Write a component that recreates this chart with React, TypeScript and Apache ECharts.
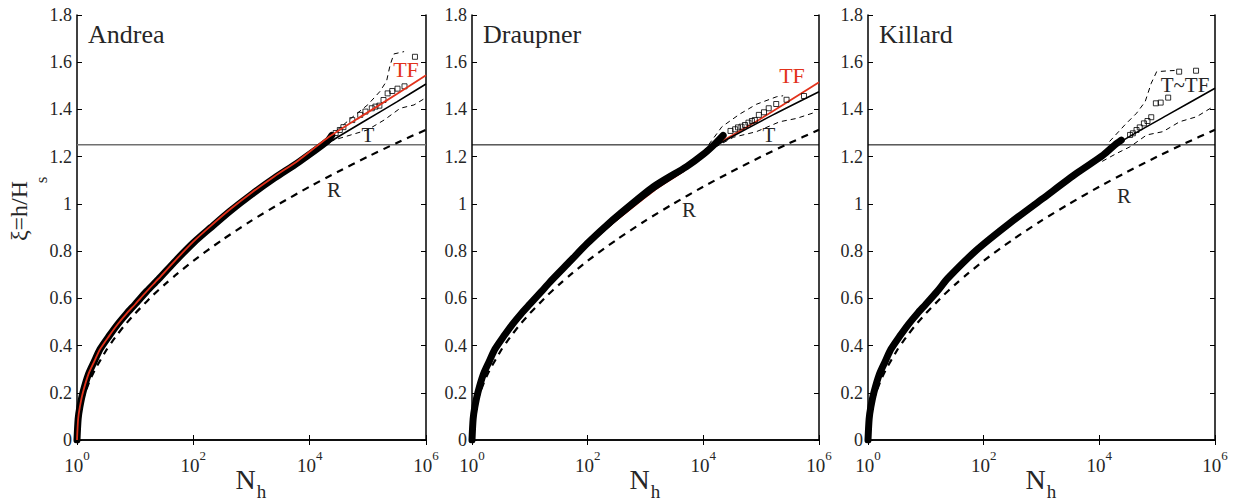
import React, { useEffect, useRef } from "react";
import * as echarts from "echarts";

// ---------- data ----------
// Rayleigh curve R (same in the three panels)
const rN = [1, 1.02, 1.05, 1.12, 1.3, 1.6, 2, 3.2, 4, 5, 6.3, 10, 16, 20, 32, 50, 100, 316, 1000, 3000, 1e4, 3e4, 1e5, 3e5, 1e6];
const rXi = [0, 0.05, 0.078, 0.12, 0.181, 0.242, 0.294, 0.381, 0.416, 0.448, 0.48, 0.536, 0.588, 0.612, 0.658, 0.699, 0.759, 0.848, 0.929, 1.0, 1.073, 1.135, 1.2, 1.256, 1.314];

// threshold line xi = 1.25
const hLineN = [1, 1e6];
const hLineXi = [1.25, 1.25];

// ---- Andrea ----
const andreaDataN = [1, 1.047, 1.12, 1.26, 1.58, 2, 2.5, 3.55, 5, 7.1, 10, 15.8, 25, 50, 100, 200, 430, 1000, 2500, 6300, 2e4, 2.4e4];
const andreaDataXi = [0, 0.09, 0.14, 0.2, 0.28, 0.335, 0.385, 0.44, 0.49, 0.535, 0.575, 0.63, 0.68, 0.76, 0.835, 0.9, 0.97, 1.04, 1.11, 1.175, 1.265, 1.29];
const andreaSqN = [2.8e4, 3.3e4, 3.8e4, 5.4e4, 7.4e4, 9.1e4, 1.17e5, 1.35e5, 1.58e5, 1.86e5, 2.19e5, 2.63e5, 3.24e5, 4.27e5, 6.46e5];
const andreaSqXi = [1.3, 1.313, 1.325, 1.355, 1.377, 1.391, 1.405, 1.412, 1.416, 1.44, 1.468, 1.478, 1.488, 1.498, 1.623];
const andreaTN = [1, 1.047, 1.12, 1.26, 1.58, 2, 2.5, 3.55, 5, 7.1, 10, 15.8, 25, 50, 100, 200, 430, 1000, 2500, 6300, 2e4, 8.5e4, 3.2e5, 1e6];
const andreaTXi = [0, 0.085, 0.135, 0.195, 0.275, 0.33, 0.38, 0.435, 0.485, 0.53, 0.57, 0.625, 0.675, 0.755, 0.83, 0.895, 0.963, 1.032, 1.1, 1.165, 1.255, 1.349, 1.433, 1.508];
const andreaTFN = [1, 1.047, 1.12, 1.26, 1.58, 2, 2.5, 3.55, 5, 7.1, 10, 15.8, 25, 50, 100, 200, 430, 1000, 2500, 6300, 2e4, 8.5e4, 3.2e5, 1e6];
const andreaTFXi = [0, 0.09, 0.14, 0.2, 0.28, 0.335, 0.385, 0.44, 0.49, 0.535, 0.575, 0.63, 0.682, 0.763, 0.84, 0.907, 0.977, 1.047, 1.117, 1.183, 1.278, 1.377, 1.466, 1.545];
const andreaUpN = [2.2e4, 5.6e4, 1e5, 1.6e5, 2.1e5, 2.4e5, 2.8e5, 4.2e5];
const andreaUpXi = [1.285, 1.37, 1.42, 1.475, 1.52, 1.585, 1.635, 1.645];
const andreaLoN = [2.2e4, 9.8e4, 1.9e5, 3.6e5, 6.2e5, 1e6];
const andreaLoXi = [1.265, 1.313, 1.355, 1.405, 1.419, 1.45];

// ---- Draupner ----
const draupDataN = [1, 1.047, 1.12, 1.26, 1.58, 2, 2.5, 3.55, 5, 7.1, 10, 15.8, 22, 50, 98, 200, 363, 1380, 5130, 1e4, 1.6e4, 2.2e4];
const draupDataXi = [0, 0.09, 0.14, 0.2, 0.28, 0.335, 0.385, 0.44, 0.49, 0.535, 0.575, 0.628, 0.668, 0.758, 0.832, 0.903, 0.958, 1.073, 1.158, 1.21, 1.255, 1.29];
const draupSqN = [2.95e4, 3.55e4, 3.98e4, 4.57e4, 5.25e4, 6.03e4, 6.92e4, 7.76e4, 9.12e4, 1.12e5, 1.35e5, 1.82e5, 2.75e5, 5.5e5];
const draupSqXi = [1.309, 1.316, 1.324, 1.327, 1.334, 1.344, 1.351, 1.355, 1.377, 1.388, 1.405, 1.423, 1.441, 1.457];
const draupTN = [1, 1.047, 1.12, 1.26, 1.58, 2, 2.5, 3.55, 5, 7.1, 10, 15.8, 22, 50, 98, 200, 363, 1380, 5130, 1e4, 2.9e4, 1.6e5, 1e6];
const draupTXi = [0, 0.085, 0.135, 0.195, 0.275, 0.33, 0.38, 0.435, 0.485, 0.53, 0.57, 0.622, 0.662, 0.75, 0.822, 0.89, 0.943, 1.055, 1.148, 1.215, 1.28, 1.377, 1.475];
const draupTFN = [1, 1.047, 1.12, 1.26, 1.58, 2, 2.5, 3.55, 5, 7.1, 10, 15.8, 22, 50, 98, 200, 363, 1380, 5130, 1e4, 1.8e4, 1e5, 1e6];
const draupTFXi = [0, 0.085, 0.135, 0.195, 0.275, 0.33, 0.38, 0.435, 0.485, 0.53, 0.57, 0.622, 0.662, 0.75, 0.822, 0.89, 0.943, 1.055, 1.148, 1.215, 1.255, 1.362, 1.515];
const draupUpN = [1e4, 2.1e4, 4.3e4, 8.3e4, 1.86e5, 2.4e5];
const draupUpXi = [1.22, 1.327, 1.381, 1.422, 1.454, 1.458];
const draupLoN = [1.6e4, 3.3e4, 8.3e4, 2.1e5, 4.1e5, 9.1e5];
const draupLoXi = [1.24, 1.282, 1.306, 1.348, 1.362, 1.39];

// ---- Killard ----
const killDataN = [1, 1.047, 1.12, 1.26, 1.58, 2, 2.5, 3.55, 5, 7.1, 10, 15.8, 24, 76, 282, 1070, 4070, 1.17e4, 1.86e4, 2.4e4];
const killDataXi = [0, 0.09, 0.14, 0.2, 0.28, 0.335, 0.385, 0.44, 0.49, 0.535, 0.575, 0.63, 0.685, 0.805, 0.918, 1.024, 1.13, 1.207, 1.25, 1.27];
const killSqN = [3.4e4, 3.8e4, 4.4e4, 5.0e4, 5.9e4, 6.8e4, 7.9e4, 9.5e4, 1.15e5, 1.55e5, 2.4e5, 4.7e5];
const killSqXi = [1.292, 1.299, 1.313, 1.324, 1.341, 1.351, 1.367, 1.426, 1.429, 1.45, 1.56, 1.564];
const killTN = [1, 1.047, 1.12, 1.26, 1.58, 2, 2.5, 3.55, 5, 7.1, 10, 15.8, 24, 76, 282, 1070, 4070, 1.17e4, 1.86e4, 3.3e4, 1.6e5, 1e6];
const killTXi = [0, 0.085, 0.135, 0.195, 0.275, 0.33, 0.38, 0.435, 0.485, 0.53, 0.57, 0.625, 0.68, 0.8, 0.912, 1.018, 1.122, 1.198, 1.245, 1.285, 1.38, 1.49];
const killUpN = [1.5e4, 2.75e4, 4.4e4, 6.2e4, 7.9e4, 9.8e4, 1.66e5, 2e5];
const killUpXi = [1.264, 1.334, 1.384, 1.433, 1.511, 1.56, 1.564, 1.565];
const killLoN = [1.12e4, 2e4, 3.4e4, 6.6e4, 1.26e5, 2.45e5, 4.8e5, 9.3e5];
const killLoXi = [1.18, 1.214, 1.242, 1.292, 1.306, 1.348, 1.369, 1.412];

// axis ticks
const xTickValues = [1, 100, 1e4, 1e6];
const panelNames = ["Andrea", "Draupner", "Killard"];

// ---------- chart ----------
const zip = (xs: number[], ys: number[]) => xs.map((x, i) => [x, ys[i]]);

const FONT = "'Liberation Serif', 'Times New Roman', serif";
const TXT = "#262626";
const RED = "#e2321b";

const panels = [
  {
    data: zip(andreaDataN, andreaDataXi), sq: zip(andreaSqN, andreaSqXi),
    t: zip(andreaTN, andreaTXi), tf: zip(andreaTFN, andreaTFXi), tfOnTop: true,
    up: zip(andreaUpN, andreaUpXi), lo: zip(andreaLoN, andreaLoXi),
    hColor: "#707070", hWidth: 1.5,
  },
  {
    data: zip(draupDataN, draupDataXi), sq: zip(draupSqN, draupSqXi),
    t: zip(draupTN, draupTXi), tf: zip(draupTFN, draupTFXi), tfOnTop: false,
    up: zip(draupUpN, draupUpXi), lo: zip(draupLoN, draupLoXi),
    hColor: "#000", hWidth: 1,
  },
  {
    data: zip(killDataN, killDataXi), sq: zip(killSqN, killSqXi),
    t: zip(killTN, killTXi), tf: null as number[][] | null, tfOnTop: false,
    up: zip(killUpN, killUpXi), lo: zip(killLoN, killLoXi),
    hColor: "#000", hWidth: 1,
  },
];

const gridBoxes = [
  { left: 77, width: 349 },
  { left: 472, width: 347 },
  { left: 868, width: 347 },
];
const TOP = 15;
const HEIGHT = 425;

function buildOption() {
  const grid = gridBoxes.map((g) => ({ left: g.left, width: g.width, top: TOP, height: HEIGHT }));
  const xAxis: any[] = [];
  const yAxis: any[] = [];
  gridBoxes.forEach((_, i) => {
    const common = {
      type: "log", logBase: 10, min: 1, max: 1e6, gridIndex: i,
      axisLine: { show: true, lineStyle: { color: "#000", width: 1.5 } },
      axisTick: { show: true, inside: true, length: 5, customValues: xTickValues, lineStyle: { color: "#000", width: 1 } },
      splitLine: { show: false },
      minorTick: { show: false },
    };
    xAxis.push({
      ...common, position: "bottom",
      axisLabel: {
        show: true, margin: 9, customValues: xTickValues,
        formatter: (v: number) => `{b|10}{s|${Math.round(Math.log10(v))}}`,
        rich: {
          b: { fontSize: 19, fontFamily: FONT, color: TXT, lineHeight: 26, verticalAlign: "bottom" },
          s: { fontSize: 13, fontFamily: FONT, color: TXT, lineHeight: 10, verticalAlign: "top" },
        },
      },
    });
    xAxis.push({ ...common, position: "top", axisLabel: { show: false } });
    const yCommon = {
      type: "value", min: 0, max: 1.8, interval: 0.2, gridIndex: i,
      axisLine: { show: true, lineStyle: { color: "#000", width: 1.5 } },
      axisTick: { show: true, inside: true, length: 5, lineStyle: { color: "#000", width: 1 } },
      splitLine: { show: false },
    };
    yAxis.push({
      ...yCommon, position: "left",
      axisLabel: { show: true, margin: 5, fontSize: 18, fontFamily: FONT, color: TXT },
    });
    yAxis.push({ ...yCommon, position: "right", axisLabel: { show: false } });
  });

  const series: any[] = [];
  panels.forEach((p, i) => {
    const base = { type: "line", xAxisIndex: 2 * i, yAxisIndex: 2 * i, showSymbol: false, silent: true, animation: false };
    const sm = { smooth: 0.25 };
    series.push({ ...base, data: zip(hLineN, hLineXi), lineStyle: { color: p.hColor, width: p.hWidth }, z: 1 });
    series.push({ ...base, ...sm, data: zip(rN, rXi), lineStyle: { color: "#000", width: 2.2, type: [7, 6] }, z: 2 });
    if (p.tf && !p.tfOnTop) series.push({ ...base, ...sm, data: p.tf, lineStyle: { color: RED, width: 1.8 }, z: 2 });
    series.push({ ...base, ...sm, data: p.t, lineStyle: { color: "#000", width: 1.6 }, z: 3 });
    series.push({ ...base, data: p.up, lineStyle: { color: "#000", width: 1, type: [5, 4] }, z: 3 });
    series.push({ ...base, data: p.lo, lineStyle: { color: "#000", width: 1, type: [5, 4] }, z: 3 });
    series.push({ ...base, ...sm, data: p.data, lineStyle: { color: "#000", width: 7, cap: "round", join: "round" }, z: 4 });
    series.push({
      type: "scatter", xAxisIndex: 2 * i, yAxisIndex: 2 * i, silent: true, animation: false,
      data: p.sq, symbol: "rect", symbolSize: 5,
      itemStyle: { color: "rgba(255,255,255,0)", borderColor: "#000", borderWidth: 1 }, z: 5,
    });
    if (p.tf && p.tfOnTop) series.push({ ...base, ...sm, data: p.tf, lineStyle: { color: RED, width: 1.8 }, z: 6 });
  });

  const txt = (x: number, y: number, text: string, size: number, color = TXT, align = "center", extra: any = {}, va = "middle") => ({
    type: "text", x, y, silent: true, ...extra,
    style: { text, fontSize: size, fontFamily: FONT, fill: color, align, verticalAlign: va },
  });

  const graphic: any[] = [];
  gridBoxes.forEach((g, i) => {
    graphic.push(txt(g.left + 11, 34, panelNames[i], 26, TXT, "left"));
    const cx = g.left + g.width / 2;
    graphic.push(txt(cx - 6, 493, "N", 28, TXT, "center", {}, "bottom"));
    graphic.push(txt(cx + 10, 501, "h", 19, TXT, "center", {}, "bottom"));
  });
  graphic.push(txt(406, 69, "TF", 22, RED));
  graphic.push(txt(368, 135, "T", 21));
  graphic.push(txt(334, 190, "R", 21));
  graphic.push(txt(792, 75, "TF", 22, RED));
  graphic.push(txt(769, 135, "T", 21));
  graphic.push(txt(689, 210, "R", 21));
  graphic.push(txt(1185, 85, "T~TF", 21));
  graphic.push(txt(1124, 196, "R", 21));
  graphic.push(txt(19, 211, "ξ=h/H", 24, TXT, "center", { rotation: Math.PI / 2 }));
  graphic.push(txt(41, 180, "s", 17, TXT, "center", { rotation: Math.PI / 2 }));

  return {
    animation: false,
    backgroundColor: "#fff",
    textStyle: { fontFamily: FONT },
    grid, xAxis, yAxis, series, graphic,
  };
}

export default function App() {
  const ref = useRef<HTMLDivElement>(null);
  useEffect(() => {
    if (!ref.current) return;
    const chart = echarts.init(ref.current, undefined, { renderer: "svg" });
    chart.setOption(buildOption() as any);
    return () => chart.dispose();
  }, []);
  return (
    <div
      ref={ref}
      style={{ position: "fixed", left: 0, top: 0, width: 1245, height: 502, background: "#fff" }}
    />
  );
}
